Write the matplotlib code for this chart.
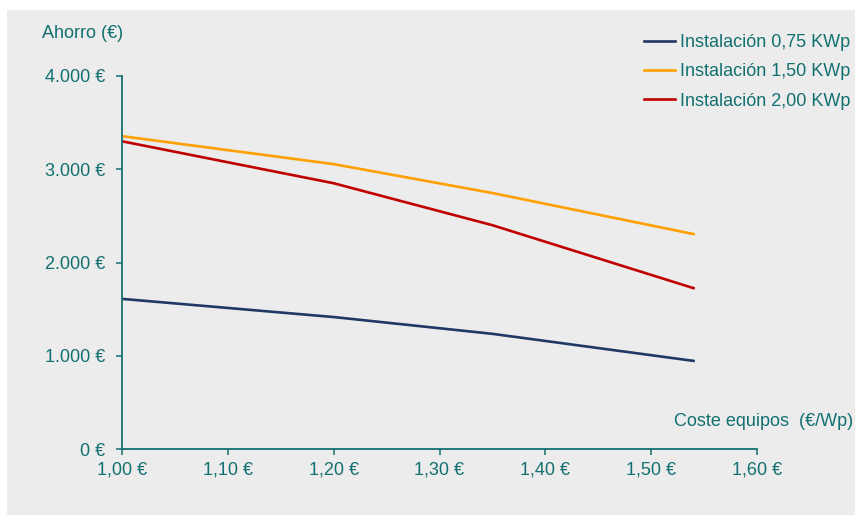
import matplotlib
matplotlib.use('Agg')
import matplotlib.pyplot as plt
from matplotlib.patches import Rectangle
from matplotlib.ticker import FuncFormatter

# coste de los equipos (€/Wp)
coste = [1.00, 1.20, 1.35, 1.54]

# ahorro (€) por instalación
ahorro_075 = [1610, 1415, 1235, 945]
ahorro_150 = [3355, 3055, 2745, 2305]
ahorro_200 = [3300, 2850, 2400, 1725]

series_labels = ['Instalación 0,75 KWp', 'Instalación 1,50 KWp', 'Instalación 2,00 KWp']
series_colors = ['#1f3864', '#ffa000', '#c00000']

x_ticks = [1.00, 1.10, 1.20, 1.30, 1.40, 1.50, 1.60]
y_ticks = [0, 1000, 2000, 3000, 4000]

TEAL = '#137070'
plt.rcParams['font.family'] = ['Liberation Sans', 'DejaVu Sans']

W, H = 855, 515
fig = plt.figure(figsize=(W / 100, H / 100), dpi=100, facecolor='white')

# fondo gris del gráfico
fig.patches.append(Rectangle((7 / W, 0), 1 - 7 / W, 1 - 10 / H,
                             transform=fig.transFigure, facecolor='#ececec',
                             edgecolor='none', zorder=-10))

ax = fig.add_axes([122 / W, 1 - 449 / H, (757 - 122) / W, (449 - 76) / H])
ax.set_facecolor('none')

for vals, lab, col in zip([ahorro_075, ahorro_150, ahorro_200], series_labels, series_colors):
    ax.plot(coste, vals, color=col, lw=1.9, label=lab, solid_joinstyle='round')

ax.set_xlim(1.0, 1.6)
ax.set_ylim(0, 4000)
ax.set_xticks(x_ticks)
ax.set_yticks(y_ticks)
ax.xaxis.set_major_formatter(FuncFormatter(lambda v, p: f'{v:.2f} €'.replace('.', ',')))
ax.yaxis.set_major_formatter(FuncFormatter(lambda v, p: f'{int(round(v)):,} €'.replace(',', '.')))

for side in ['top', 'right']:
    ax.spines[side].set_visible(False)
for side in ['left', 'bottom']:
    ax.spines[side].set_color(TEAL)
    ax.spines[side].set_linewidth(1.3)
ax.tick_params(colors=TEAL, labelcolor=TEAL, labelsize=13, length=4, width=1.1, direction='out')
ax.tick_params(axis='x', pad=5)
ax.tick_params(axis='y', pad=8)

fig.text(42 / W, 1 - 33 / H, 'Ahorro (€)', color=TEAL, fontsize=13, va='center', ha='left')
fig.text(853 / W, 1 - 421 / H, 'Coste equipos  (€/Wp)', color=TEAL, fontsize=13,
         va='center', ha='right')

leg = fig.legend(loc='upper right', bbox_to_anchor=(858 / W, 1 - 27 / H), frameon=False,
                 fontsize=13, handlelength=1.7, handletextpad=0.3, labelspacing=0.68,
                 borderaxespad=0)
for t in leg.get_texts():
    t.set_color(TEAL)

fig.savefig('out.png', dpi=100, facecolor='white')
